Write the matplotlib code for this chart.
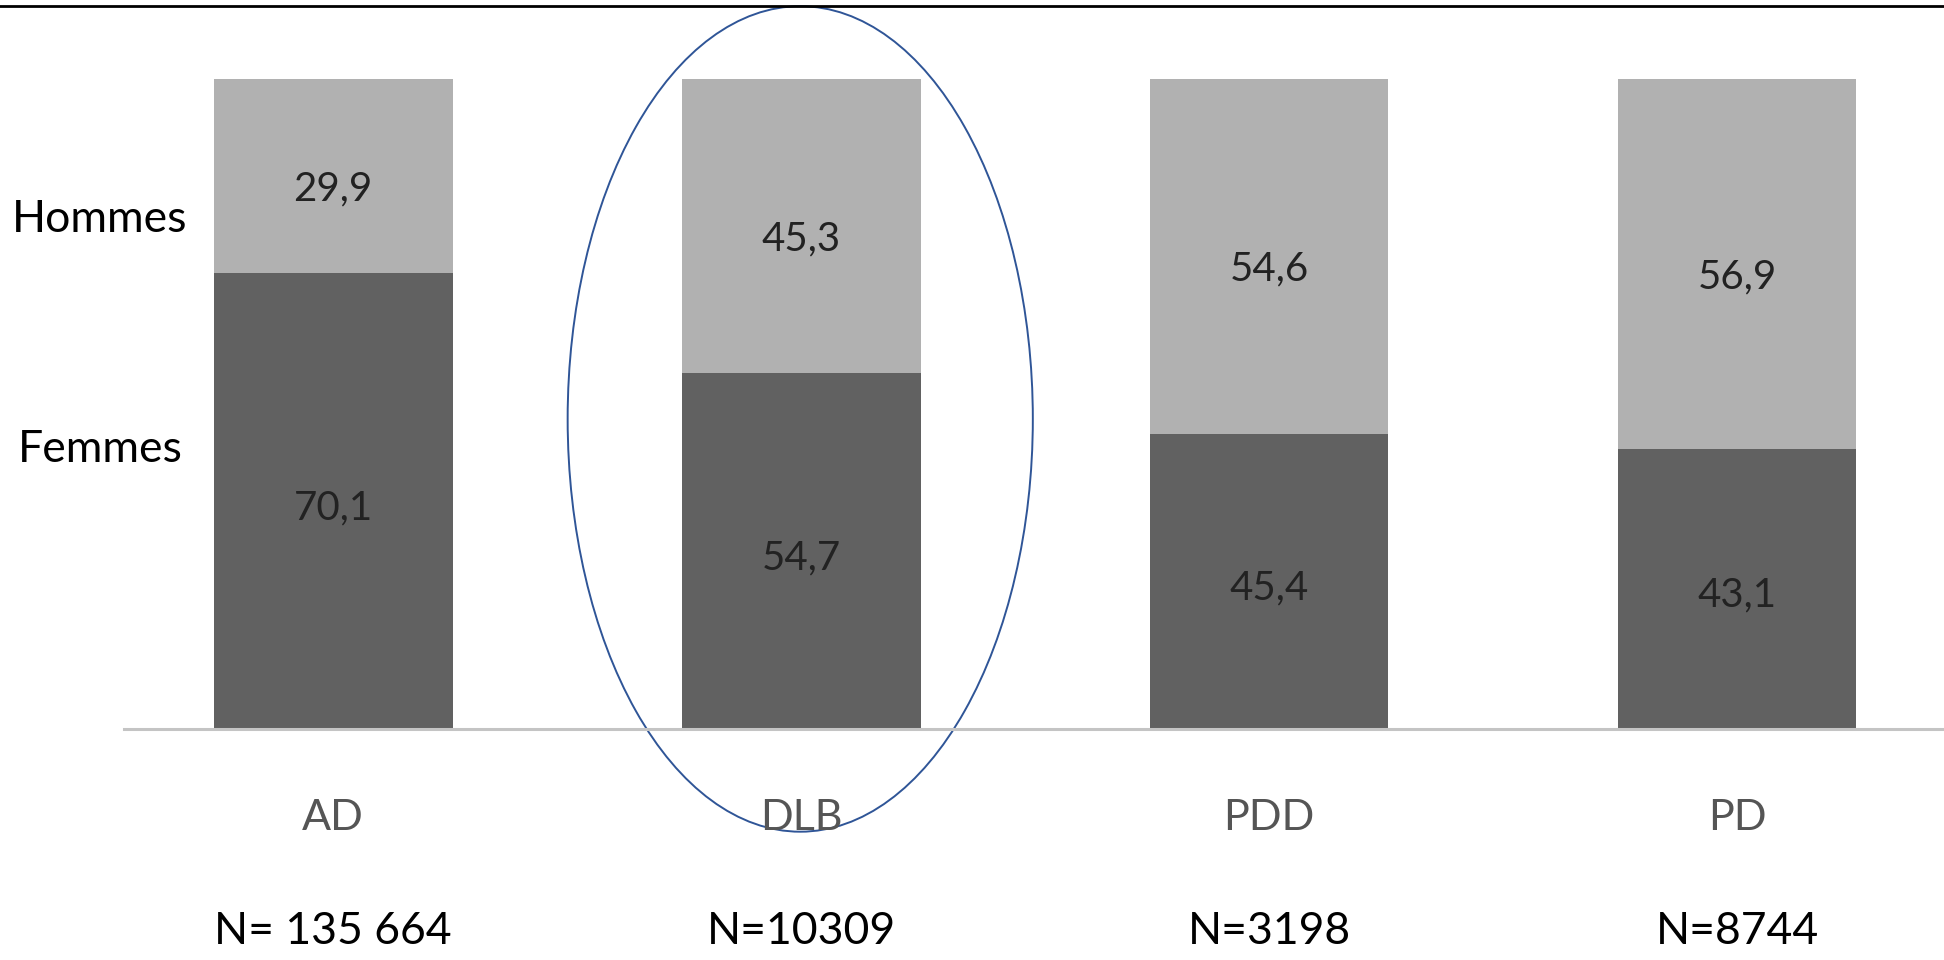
import matplotlib
matplotlib.use("Agg")
import matplotlib.pyplot as plt
from matplotlib.patches import Ellipse
from matplotlib.lines import Line2D

plt.rcParams['font.family'] = ['Lato', 'DejaVu Sans']

groups = ['AD', 'DLB', 'PDD', 'PD']
femmes = [70.1, 54.7, 45.4, 43.1]
hommes = [29.9, 45.3, 54.6, 56.9]
effectifs = ['N= 135 664', 'N=10309', 'N=3198', 'N=8744']

dark = '#616161'
light = '#b1b1b1'

fig = plt.figure(figsize=(19.44, 9.6), dpi=100)
# axes area: baseline at 729 px, 100% at 79 px, first bar centre at 333 px
ax = fig.add_axes([124 / 1944, 231 / 960, 1820 / 1944, 650 / 960])
ax.set_xlim(-0.447, 3.442)
ax.set_ylim(0, 100)

x = list(range(len(groups)))
ax.bar(x, femmes, width=0.51, color=dark)
ax.bar(x, hommes, width=0.51, bottom=femmes, color=light)

for i in x:
    ax.text(i, femmes[i] / 2 - 1, f"{femmes[i]:.1f}".replace('.', ','),
            ha='center', va='center', fontsize=29, color='#222222')
    ax.text(i, femmes[i] + hommes[i] / 2 - 2, f"{hommes[i]:.1f}".replace('.', ','),
            ha='center', va='center', fontsize=29, color='#222222')
    ax.text(i, -13.7, groups[i], ha='center', va='center',
            fontsize=31, color='#555555', clip_on=False)
    ax.text(i, -31.2, effectifs[i], ha='center', va='center',
            fontsize=32, color='black', clip_on=False)

for side in ['top', 'right', 'left']:
    ax.spines[side].set_visible(False)
ax.spines['bottom'].set_color('#c4c4c4')
ax.spines['bottom'].set_linewidth(2.2)
ax.set_xticks([])
ax.set_yticks([])

# highlight around the DLB column
ax.add_patch(Ellipse((0.998, 47.7), 0.994, 127, fill=False,
                     edgecolor='#2f5597', linewidth=1.4, clip_on=False))

fig.text(12 / 1944, 1 - 219 / 960, 'Hommes', ha='left', va='center',
         fontsize=32, color='black')
fig.text(18 / 1944, 1 - 449 / 960, 'Femmes', ha='left', va='center',
         fontsize=32, color='black')

fig.add_artist(Line2D([0, 1], [1 - 6 / 960, 1 - 6 / 960],
                      transform=fig.transFigure, color='black', linewidth=2))

fig.savefig('out.png', dpi=100, facecolor='white')
